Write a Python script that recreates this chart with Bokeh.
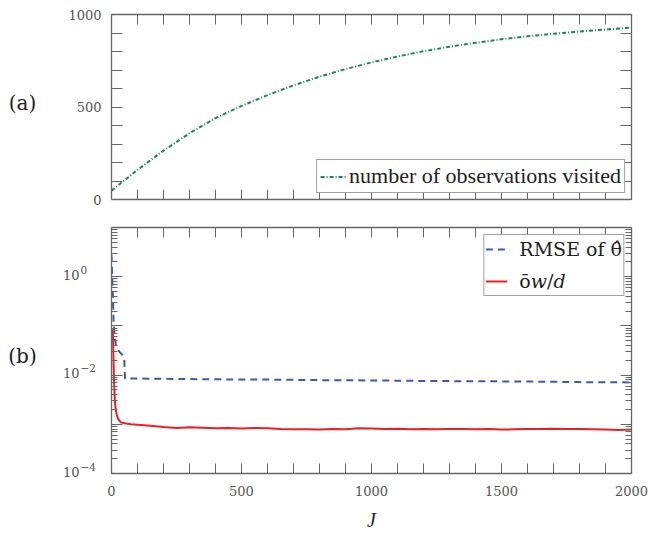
from bokeh.plotting import figure
from bokeh.layouts import column, row
from bokeh.models import (FixedTicker, LinearAxis, LogAxis, CustomJSTickFormatter,
                          Legend, LegendItem, Range1d)
from bokeh.core.properties import value
from bokeh.embed import file_html
from bokeh.resources import INLINE

# ---------------- data ----------------
J_obs = [0, 100, 200, 300, 400, 500, 600, 700, 800, 900, 1000,
         1100, 1200, 1300, 1400, 1500, 1600, 1700, 1800, 1900, 2000]
obs_visited = [48, 160, 264, 358, 440, 506, 564, 617, 664, 705, 741,
               773, 801, 826, 847, 866, 882, 896, 908, 919, 929]

J_rmse = [0, 2, 4, 6, 8, 12, 18, 30, 44, 49, 52, 100, 200, 400, 600,
          800, 1000, 1200, 1400, 1600, 1800, 2000]
rmse_theta = [2.8, 1.3, 0.6, 0.3, 0.12, 0.06, 0.038, 0.03, 0.025, 0.022,
              0.0085, 0.0085, 0.0084, 0.0082, 0.0081, 0.0079, 0.0078,
              0.0076, 0.0075, 0.0074, 0.0072, 0.0071]

J_ow = [5, 7, 9, 11, 13, 16, 20, 25, 35, 50, 75, 100, 150, 200, 250, 300,
        350, 400, 450, 500, 550, 600, 650, 700, 750, 800, 850, 900, 950,
        1000, 1050, 1100, 1150, 1200, 1250, 1300, 1350, 1400, 1450, 1500,
        1550, 1600, 1650, 1700, 1750, 1800, 1850, 1900, 1950, 2000]
ow_over_d = [0.085, 0.03, 0.01, 0.005, 0.003, 0.002, 0.0016, 0.0013, 0.0011,
             0.00105, 0.001, 0.00098, 0.00093, 0.00088, 0.00084, 0.00087,
             0.00085, 0.00083, 0.00084, 0.00082, 0.00084, 0.00083, 0.0008,
             0.00079, 0.00079, 0.00078, 0.0008, 0.00079, 0.00083, 0.00082,
             0.0008, 0.00081, 0.00079, 0.0008, 0.00079, 0.0008, 0.0008,
             0.00079, 0.0008, 0.00078, 0.00079, 0.0008, 0.0008, 0.00081,
             0.0008, 0.0008, 0.00079, 0.00078, 0.00077, 0.00078]

x_ticks = list(range(0, 2001, 100))
x_labeled = [0, 500, 1000, 1500, 2000]
x_labels = ["0", "500", "1000", "1500", "2000"]
obs_ticks = list(range(0, 1001, 100))
obs_labeled = [0, 500, 1000]
obs_labels = ["0", "500", "1000"]
log_major = [1e-4, 1e-3, 1e-2, 1e-1, 1e0, 1e1]
log_minor = [m * 10.0 ** e for e in range(-4, 1) for m in range(2, 10)]
log_labeled = [1e-4, 1e-2, 1e0]
log_base = ["10", "10", "10"]
log_expo = ["\u22124", "\u22122", "0"]
panel_names = ["(a)", "(b)"]

# ---------------- styling ----------------
GREEN = "#1a8a4a"
BLUE = "#3a5ba8"
RED = "#ee1c25"
AX = "#666666"
TICKFONT = "DejaVu Serif"
TICKCOLOR = "#555555"
W1, W2 = 60, 101     # widths of the strips left of the two panels
H1, H2 = 209, 328    # heights of the two rows


def fmt(ticks, labels):
    return CustomJSTickFormatter(args=dict(ts=ticks, ls=labels), code="""
        for (let i = 0; i < ts.length; i++) {
            if (Math.abs(ts[i] - tick) <= 1e-9 * Math.max(1e-6, Math.abs(ts[i]))) return ls[i];
        }
        return "";
    """)


def style_axis(ax, ticker, tick_len=10, minor_len=0, show_labels=True, formatter=None):
    ax.ticker = ticker
    ax.axis_line_color = AX
    ax.axis_line_width = 1.3
    ax.major_tick_line_color = AX
    ax.major_tick_line_width = 1
    ax.major_tick_in = tick_len
    ax.major_tick_out = 0
    if minor_len:
        ax.minor_tick_line_color = AX
        ax.minor_tick_in = minor_len
        ax.minor_tick_out = 0
    else:
        ax.minor_tick_line_color = None
    if show_labels:
        ax.major_label_text_font = TICKFONT
        ax.major_label_text_font_size = "13px"
        ax.major_label_text_color = TICKCOLOR
        if formatter is not None:
            ax.formatter = formatter
    else:
        ax.major_label_text_font_size = "0px"
        ax.major_label_standoff = 0
        ax.formatter = fmt([], [])


# ---------------- panel (a) ----------------
p1 = figure(frame_width=520, frame_height=185,
            x_range=Range1d(0, 2000), y_range=Range1d(0, 1000),
            output_backend="svg", toolbar_location=None,
            min_border_left=111 - W1, min_border_right=20,
            min_border_top=14, min_border_bottom=10)
p1.grid.visible = False
p1.outline_line_color = None

style_axis(p1.xaxis[0], FixedTicker(ticks=x_ticks), show_labels=False)
style_axis(p1.yaxis[0], FixedTicker(ticks=obs_ticks), tick_len=11,
           formatter=fmt(obs_labeled, obs_labels))
p1.yaxis[0].major_label_standoff = 10
top1 = LinearAxis()
style_axis(top1, FixedTicker(ticks=x_ticks), show_labels=False)
p1.add_layout(top1, "above")
right1 = LinearAxis()
style_axis(right1, FixedTicker(ticks=obs_ticks), tick_len=11, show_labels=False)
p1.add_layout(right1, "right")

r_obs = p1.line(J_obs, obs_visited, line_color=GREEN, line_width=2,
                line_dash="4 2 1 2")

leg1 = Legend(items=[LegendItem(label="number of observations visited",
                                renderers=[r_obs])],
              location="bottom_right", margin=6, padding=3,
              label_text_font="Liberation Serif", label_text_font_size="22px",
              label_text_color="#222222", label_standoff=3,
              glyph_width=26, glyph_height=25, label_height=25,
              border_line_color="#444444", border_line_width=1,
              background_fill_color="white", background_fill_alpha=1)
p1.add_layout(leg1)

strip1 = figure(width=W1, height=H1, x_range=Range1d(0, W1), y_range=Range1d(H1, 0),
                x_axis_location=None, y_axis_location=None,
                output_backend="svg", toolbar_location=None, min_border=0)
strip1.outline_line_color = None
strip1.grid.visible = False
strip1.text(x=[22], y=[100], text=[panel_names[0]], text_align="center",
            text_baseline="middle", text_font=value("DejaVu Serif"),
            text_font_size="20px", text_color="#222222")

# ---------------- panel (b) ----------------
p2 = figure(frame_width=520, frame_height=246, y_axis_type="log",
            x_range=Range1d(0, 2000), y_range=Range1d(1e-4, 1e1),
            output_backend="svg", toolbar_location=None,
            min_border_left=111 - W2, min_border_right=20,
            min_border_top=18, min_border_bottom=64)
p2.grid.visible = False
p2.outline_line_color = None

style_axis(p2.xaxis[0], FixedTicker(ticks=x_ticks),
           formatter=fmt(x_labeled, x_labels))
p2.xaxis[0].major_label_standoff = 12
p2.xaxis[0].axis_label = "J"
p2.xaxis[0].axis_label_text_font = "Liberation Serif"
p2.xaxis[0].axis_label_text_font_style = "italic"
p2.xaxis[0].axis_label_text_font_size = "20px"
p2.xaxis[0].axis_label_text_color = "#222222"
p2.xaxis[0].axis_label_standoff = 10

style_axis(p2.yaxis[0], FixedTicker(ticks=log_major, minor_ticks=log_minor),
           tick_len=11, minor_len=6, show_labels=False)
top2 = LinearAxis()
style_axis(top2, FixedTicker(ticks=x_ticks), show_labels=False)
p2.add_layout(top2, "above")
right2 = LogAxis()
style_axis(right2, FixedTicker(ticks=log_major, minor_ticks=log_minor),
           tick_len=11, minor_len=6, show_labels=False)
p2.add_layout(right2, "right")

r_rmse = p2.line(J_rmse, rmse_theta, line_color=BLUE, line_width=2,
                 line_dash="7 5")
r_ow = p2.line(J_ow, ow_over_d, line_color=RED, line_width=2)

leg2 = Legend(items=[LegendItem(label="RMSE of \u03b8\u0302", renderers=[r_rmse]),
                     LegendItem(label="\u014d\U0001d464/\U0001d451", renderers=[r_ow])],
              location="top_right", margin=7, padding=1, spacing=6,
              label_text_font="DejaVu Serif", label_text_font_size="19px",
              label_text_color="#222222", label_standoff=12,
              glyph_width=22, glyph_height=26, label_height=26,
              border_line_color="#444444", border_line_width=1,
              background_fill_color="white", background_fill_alpha=1)
p2.add_layout(leg2)

# strip left of panel (b): shares the log y range, holds the tick labels
strip2 = figure(width=W2, height=H2, x_range=Range1d(0, W2), y_range=p2.y_range,
                y_axis_type="log", x_axis_location=None, y_axis_location=None,
                output_backend="svg", toolbar_location=None,
                min_border_left=0, min_border_right=0,
                min_border_top=18, min_border_bottom=64)
strip2.outline_line_color = None
strip2.grid.visible = False
strip2.text(x=[79] * len(log_labeled), y=log_labeled, text=log_base,
            text_align="right", text_baseline="middle", y_offset=-2,
            text_font=value(TICKFONT), text_font_size="13px",
            text_color=TICKCOLOR, level="overlay")
strip2.text(x=[80] * len(log_labeled), y=log_labeled, text=log_expo,
            text_align="left", text_baseline="middle", y_offset=-7,
            text_font=value(TICKFONT), text_font_size="10.5px",
            text_color=TICKCOLOR, level="overlay")
strip2.text(x=[22], y=[0.024], text=[panel_names[1]], text_align="center",
            text_baseline="middle", text_font=value("DejaVu Serif"),
            text_font_size="20px", text_color="#222222", level="overlay")

layout = column(row(strip1, p1, spacing=0), row(strip2, p2, spacing=0), spacing=0)
open("out.html", "w").write(file_html(layout, INLINE))
